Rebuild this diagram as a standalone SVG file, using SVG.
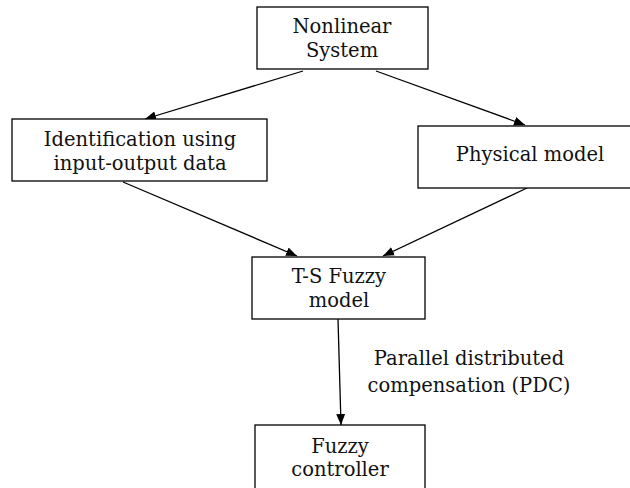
<svg xmlns="http://www.w3.org/2000/svg" width="630" height="488" viewBox="0 0 630 488">
<style>
.box{fill:#fff;stroke:#000;stroke-width:1.3}
.t{font-family:"DejaVu Serif","Liberation Serif",serif;font-size:19.5px;fill:#111;text-anchor:middle}
.c{stroke:#000;stroke-width:1.3;fill:none;marker-end:url(#ah)}
</style>
<defs>
<marker id="ah" markerUnits="userSpaceOnUse" markerWidth="12" markerHeight="10" refX="11" refY="4.5" orient="auto">
<path d="M0,0 L11,4.5 L0,9 z" fill="#000"/>
</marker>
</defs>
<rect width="630" height="488" fill="#fff"/>
<g id="connectors">
<line class="c" x1="303" y1="71" x2="145" y2="119"/>
<line class="c" x1="376" y1="71" x2="525" y2="125"/>
<line class="c" x1="123" y1="182" x2="297" y2="256"/>
<line class="c" x1="527" y1="188" x2="383" y2="256"/>
<line class="c" x1="338" y1="319" x2="341" y2="425"/>
</g>
<g id="nonlinear">
<rect class="box" x="257" y="7" width="171" height="62"/>
<text class="t" x="342" y="33">Nonlinear</text>
<text class="t" x="342" y="57">System</text>
</g>
<g id="identification">
<rect class="box" x="12" y="119" width="255" height="62"/>
<text class="t" x="140" y="146">Identification using</text>
<text class="t" x="140" y="170">input-output data</text>
</g>
<g id="physical">
<rect class="box" x="418" y="126" width="224" height="62"/>
<text class="t" x="530" y="161">Physical model</text>
</g>
<g id="ts">
<rect class="box" x="252" y="257" width="173" height="62"/>
<text class="t" x="339" y="283">T-S Fuzzy</text>
<text class="t" x="339" y="307">model</text>
</g>
<g id="pdc">
<text class="t" x="469" y="365">Parallel distributed</text>
<text class="t" x="469" y="392">compensation (PDC)</text>
</g>
<g id="controller">
<rect class="box" x="255" y="425" width="170" height="70"/>
<text class="t" x="340" y="453">Fuzzy</text>
<text class="t" x="340" y="476">controller</text>
</g>
</svg>
